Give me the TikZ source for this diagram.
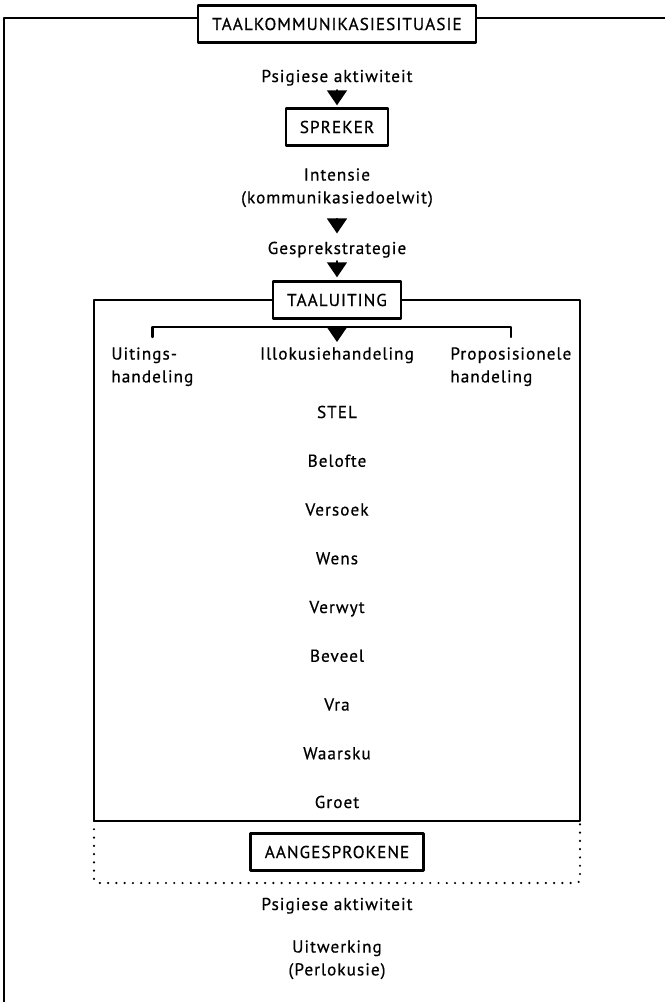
\documentclass[tikz,border=0pt]{standalone}
\usepackage{fontspec}
\setmainfont{PT Sans}[LetterSpace=6,FakeBold=0.6]
\usetikzlibrary{arrows.meta}

\begin{document}
\begin{tikzpicture}[line cap=round,line join=round,x=0.02cm,y=-0.02cm,
  every node/.style={font=\fontsize{9.8}{13}\selectfont},
  frame/.style={line width=1.4pt},
  box/.style={draw,line width=1.4pt,inner xsep=8pt,inner ysep=0pt,minimum height=0.74cm},
  lbl/.style={inner sep=0pt,align=center},
  tri/.style={-{Triangle[width=0.4cm,length=0.3cm]},line width=1pt}]
\clip (0,0) rectangle (665,1002);
% outer frame
\coordinate (ofr) at (670,18);
\coordinate (ofl) at (4,1010);
\node[box] (title) at (337,24) {TAALKOMMUNIKASIESITUASIE};
\draw[frame] (ofr) -- (title.east |- ofr);
\draw[frame] (title.west |- ofr) -| (ofl);
% speaker
\node[lbl,anchor=base] (psig1) at (337,82) {Psigiese aktiwiteit};
\node[box] (spreker) at (337,127) {SPREKER};
\node[lbl,anchor=north] (intensie) at (337,168) {Intensie\\(kommunikasiedoelwit)};
\node[lbl,anchor=base] (gespr) at (337,254) {Gesprekstrategie};
\node[box] (taal) at (337,300) {TAALUITING};
\draw[tri,shorten <=0.08cm,shorten >=0.04cm] (psig1) -- (spreker);
\draw[tri,shorten <=0.3cm,shorten >=0.16cm] (intensie) -- (gespr);
\draw[tri,shorten <=0.06cm,shorten >=0.06cm] (gespr) -- (taal);
% utterance
\coordinate (ibl) at (94,821);
\coordinate (ibr) at (580,821);
\draw[frame] (taal.west) -| (ibl) -- (ibr) |- (taal.east);
\coordinate (brace) at (337,327);
\node[lbl,anchor=north west,align=left] (uitings) at (111,347) {Uitings-\\handeling};
\node[lbl,anchor=north] (illok) at (337,347) {Illokusiehandeling};
\node[lbl,anchor=north west,align=left] (propos) at (450,347) {Proposisionele\\handeling};
\draw[frame,shorten <=0.2cm,shorten >=0.2cm] (uitings.north) |- (brace) -| (propos.north);
\draw[tri,shorten >=0.1cm] (brace) -- (illok);
\foreach \act [count=\i] in {STEL,Belofte,Versoek,Wens,Verwyt,Beveel,Vra,Waarsku,Groet}
  \node[lbl,anchor=base] (act\i) at (337,369.25+48.75*\i) {\act};
% addressee
\coordinate (dbl) at (94,883);
\coordinate (dbr) at (580,883);
\draw[frame,dash pattern=on 0pt off 4.7pt,rounded corners=0.08cm] (ibl) -- (dbl) -- (dbr) -- (ibr);
\node[box] (aanges) at (337,852) {AANGESPROKENE};
\node[lbl,anchor=base] (psig2) at (337,910) {Psigiese aktiwiteit};
\node[lbl,anchor=north] (uitw) at (337,940) {Uitwerking\\(Perlokusie)};
\end{tikzpicture}
\end{document}
